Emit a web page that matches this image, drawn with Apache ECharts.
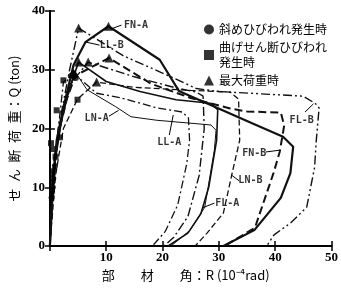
<!DOCTYPE html>
<html><head><meta charset="utf-8">
<script src="https://cdn.jsdelivr.net/npm/echarts@6/dist/echarts.min.js"></script>
<style>html,body{margin:0;padding:0;background:#fff}#c{width:341px;height:288px}</style>
</head><body><div id="c"></div>
<script>
// axis ranges (10^-4 rad, ton)
const xMin = 0, xMax = 50, xStep = 10;
const yMin = 0, yMax = 40, yStep = 10;

// load-deformation curves [R, Q]
const FN_A = [[0,0],[0.5,10],[1.2,18],[2.5,24],[4.2,30.8],[6.3,34.7],[10.4,37.4],[19.5,31.7],[22.9,26.4],[35.9,20.9],[41.4,18.6],[43.2,16.9],[42.7,12.4],[41,8.2],[36.3,2.7],[30.8,0]];
const FN_B = [[0,0],[0.6,12],[1.5,19],[3,25],[4.5,29],[10.5,32.0],[18,27.6],[25,25.2],[32,23.4],[35,22.9],[41,22.7],[41.6,20.5],[40.8,16],[39.7,12.4],[36.4,3.1],[31,0]];
const FL_B = [[0,0],[0.5,12],[1.5,20],[3.5,30],[5.1,37.1],[13,32.4],[22.4,28.4],[26,26.8],[30,26.3],[45,25.5],[47.2,24.2],[47.8,23.5],[47.3,18],[47,13.4],[45.6,6.6],[42.7,3.9],[39.8,1.9],[38.5,0]];
const LL_B = [[0,0],[0.6,14],[2,22],[4,28],[6.8,31.3],[15,28.8],[22.4,26.9],[26,26.2],[27.2,25.5],[27.4,20],[26.5,12],[24.5,5],[22,1.5],[20.3,0]];
const LN_B = [[0,0],[1,12],[2.4,20],[4.9,25],[8.3,27.9],[15,27],[25,26.5],[32,26.2],[33.5,25],[33.7,18],[32.5,13],[30.8,5.6],[27.9,2.2],[25.8,0]];
const LL_A = [[0,0],[0.8,14],[2.4,27.9],[4.2,29.4],[8.3,26],[12.7,25.2],[19,23.5],[23.5,22.8],[24.6,21.8],[24.8,18],[24.3,14],[22.7,7],[20.5,2.5],[18.2,0]];
const LN_A = [[0,0],[1,15],[2.5,24],[4.5,29.6],[6.6,26.6],[11.7,23.7],[14.4,22],[19,21.4],[28.6,20.6],[29.5,19.7],[29.2,16.3],[27.5,6.6],[24.9,2.7],[21.5,0]];
const FL_A = [[0,0],[0.7,13],[2,21],[3.5,27],[5.1,31.3],[10,28],[16,26.3],[22.4,24.9],[28.5,24.3],[29.8,23.2],[29.6,18],[28.2,10],[26.8,5.5],[24.5,2.2],[21,0]];

// event markers
const diagCrack = [[0.3,8.2],[0.4,9.2],[0.5,10],[0.4,10.8],[0.6,11.5],[0.5,12.2],[0.7,12.9],[0.9,13.6],[3.8,29],[4.2,29.4],[4.6,28.6]];
const flexShearCrack = [[0.2,17.5],[0.4,16.5],[1.0,15.2],[1.2,23.1],[2.4,28.2],[4.9,24.9],[1.8,18.5]];
const maxLoad = [[5.1,37.1],[10.4,37.4],[5.1,31.3],[6.8,31.3],[10.5,32.0],[8.3,27.9],[4.2,29.4]];

// curve labels: [text, labelX, labelY, leaderFromX, leaderFromY, leaderToX, leaderToY]
const curveLabels = [
  ['FN-A',15.3,37.6,12.7,37.6,11.0,37.0],
  ['LL-B',11.0,34.2,8.8,34.2,6.4,34.7],
  ['LN-A',8.3,21.8,10.5,22.1,12.2,23.1],
  ['LL-A',21.2,17.7,21.2,18.9,21.9,22.3],
  ['FL-B',44.7,21.3,45.3,22.8,46.8,24.2],
  ['FN-B',36.3,15.8,38.3,16.0,40.7,16.3],
  ['LN-B',35.6,11.2,33.6,11.1,32.2,12.1],
  ['FL-A',31.5,7.3,29.2,7.3,27.1,6.5]
];

const legendNames = ['斜めひびわれ発生時','曲げせん断ひびわれ\n発生時','最大荷重時'];
const xTitle = '部　　材　　角：R (10⁻⁴rad)';
const yTitle = 'せ\u2002ん\u2002断\u2002荷\u2002重：Q (ton)';

const curves = [
  {name:'FN-A', data:FN_A, type:'solid', width:2.2},
  {name:'FN-B', data:FN_B, type:[8,4], width:2},
  {name:'FL-B', data:FL_B, type:[9,3,2,3,2,3], width:1.4},
  {name:'LL-B', data:LL_B, type:[9,3,2,3], width:1.4},
  {name:'LN-B', data:LN_B, type:[6,3], width:1.3},
  {name:'LL-A', data:LL_A, type:[8,3,2,3], width:1.3},
  {name:'LN-A', data:LN_A, type:'solid', width:1},
  {name:'FL-A', data:FL_A, type:'solid', width:1.6}
];

const series = curves.map(c => ({
  name:c.name, type:'line', data:c.data, symbol:'none', silent:true,
  lineStyle:{color:'#111', width:c.width, type:c.type}, z:2
}));
series.push({name:legendNames[0], type:'scatter', data:diagCrack, symbol:'circle', symbolSize:6, itemStyle:{color:'#000'}, z:5});
series.push({name:legendNames[1], type:'scatter', data:flexShearCrack, symbol:'rect', symbolSize:6, itemStyle:{color:'#000'}, z:5});
series.push({name:legendNames[2], type:'scatter', data:maxLoad, symbol:'triangle', symbolSize:9, itemStyle:{color:'#000'}, z:5});
series.push({name:'labels', type:'scatter', symbol:'circle', symbolSize:1, silent:true,
  itemStyle:{color:'rgba(0,0,0,0)'},
  data:curveLabels.map(l=>({value:[l[1],l[2]], name:l[0]})),
  label:{show:true, position:'inside', formatter:p=>p.name, color:'#000', fontSize:10, fontWeight:'bold', fontFamily:'DejaVu Sans Mono'}, z:6});
series.push({name:'leaders', type:'lines', coordinateSystem:'cartesian2d', silent:true,
  data:curveLabels.map(l=>({coords:[[l[3],l[4]],[l[5],l[6]]]})),
  lineStyle:{color:'#000', width:1, opacity:1}, z:6});

const axisLineStyle = {lineStyle:{color:'#000', width:2}};
const tickStyle = {inside:true, length:5, lineStyle:{color:'#000', width:1.5}};
const lblFont = {color:'#000', fontSize:13, fontFamily:'Liberation Serif', fontWeight:'bold'};

const chart = echarts.init(document.getElementById('c'));
chart.setOption({
  animation:false,
  backgroundColor:'#fff',
  grid:{left:38, right:8, top:11, bottom:42},
  legend:{orient:'vertical', left:199, top:17, itemWidth:10, itemHeight:10, itemGap:3, selectedMode:false,
    data:[{name:legendNames[0], icon:'circle'},{name:legendNames[1], icon:'rect'},{name:legendNames[2], icon:'triangle'}],
    textStyle:{fontSize:12, color:'#000', fontFamily:'Noto Sans CJK JP', lineHeight:15}},
  xAxis:[
    {type:'value', min:xMin, max:xMax, interval:xStep, axisLine:axisLineStyle, axisTick:tickStyle,
     axisLabel:Object.assign({showMinLabel:false, margin:5}, lblFont), splitLine:{show:false},
     name:xTitle, nameLocation:'middle', nameGap:22,
     nameTextStyle:{color:'#000', fontSize:13, fontFamily:'Noto Sans CJK JP', padding:[0,10,0,0]}},
    {type:'value', position:'top', min:xMin, max:xMax, interval:xStep, axisLine:axisLineStyle, axisTick:tickStyle,
     axisLabel:{show:false}, splitLine:{show:false}}
  ],
  yAxis:[
    {type:'value', min:yMin, max:yMax, interval:yStep, axisLine:axisLineStyle, axisTick:tickStyle,
     axisLabel:Object.assign({margin:5}, lblFont), splitLine:{show:false},
     name:yTitle, nameLocation:'middle', nameGap:22, nameRotate:90,
     nameTextStyle:{color:'#000', fontSize:13, fontFamily:'Noto Sans CJK JP'}},
    {type:'value', position:'right', min:yMin, max:yMax, interval:yStep, axisLine:axisLineStyle, axisTick:tickStyle,
     axisLabel:{show:false}, splitLine:{show:false}}
  ],
  series:series
});
</script>
</body></html>
